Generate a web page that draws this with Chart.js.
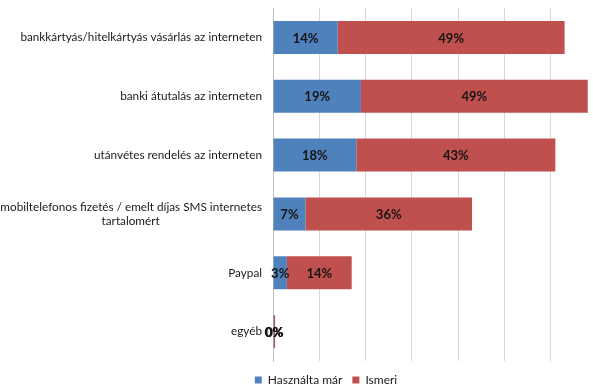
<!DOCTYPE html>
<html><head><meta charset="utf-8">
<script src="https://cdn.jsdelivr.net/npm/chart.js@4/dist/chart.umd.min.js"></script>
<style>html,body{margin:0;padding:0;overflow:hidden;background:#fff}#wrap{width:600px;height:389px;position:relative}</style>
</head><body><div id="wrap"><canvas id="c"></canvas></div>
<script>
const categories = [
  'bankkártyás/hitelkártyás vásárlás az interneten',
  'banki átutalás az interneten',
  'utánvétes rendelés az interneten',
  ['mobiltelefonos fizetés / emelt díjas SMS internetes', 'tartalomért'],
  'Paypal',
  'egyéb'
];
const seriesNames = ['Használta már', 'Ismeri'];
const usedValues = [14, 19, 18, 7, 3, 0.2];
const knownValues = [49, 49, 43, 36, 14, 0.25];
const xTickMax = 70;
const xTickStep = 10;

const FONT = 'Lato';
const LABEL_SIZE = 11.75;
const colors = ['#4F81BD', '#C0504D'];

const measureCtx = document.createElement('canvas').getContext('2d');
function centerLines(lines, font) {
  measureCtx.font = font;
  const w = lines.map(l => measureCtx.measureText(l).width);
  const max = Math.max(...w);
  const sp = measureCtx.measureText(' ').width;
  return lines.map((l, i) => l + ' '.repeat(Math.round((max - w[i]) / 2 / sp)));
}

const barLabels = {
  id: 'barLabels',
  afterLayout(chart) {
    // let the category labels run past the left padding (they are clipped to the axis box otherwise)
    chart.scales.y._computeLabelArea = () => null;
  },
  afterDatasetsDraw(chart) {
    const ctx = chart.ctx;
    ctx.save();
    ctx.font = 'bold 13px ' + FONT;
    ctx.fillStyle = '#141414';
    ctx.textAlign = 'center';
    ctx.textBaseline = 'middle';
    chart.data.datasets.forEach((ds, i) => {
      chart.getDatasetMeta(i).data.forEach((bar, j) => {
        const p = bar.getProps(['x', 'y', 'base'], true);
        ctx.fillText(Math.round(ds.data[j]) + '%', (p.x + p.base) / 2, p.y + 1);
      });
    });
    ctx.restore();
  }
};

new Chart(document.getElementById('c'), {
  type: 'bar',
  data: {
    labels: categories,
    datasets: [
      { label: seriesNames[0], data: usedValues, backgroundColor: colors[0] },
      { label: seriesNames[1], data: knownValues, backgroundColor: colors[1] }
    ]
  },
  options: {
    indexAxis: 'y',
    responsive: true,
    maintainAspectRatio: false,
    animation: false,
    layout: { padding: { left: 55, right: 3, top: 8, bottom: -7 } },
    datasets: { bar: { barPercentage: 0.56, categoryPercentage: 1 } },
    scales: {
      x: {
        stacked: true,
        min: 0, max: xTickMax,
        afterFit(s) { s.height = 3; },
        ticks: { display: false, stepSize: xTickStep },
        grid: { color: '#d9d9d9', drawTicks: false },
        border: { display: false }
      },
      y: {
        stacked: true,
        afterFit(s) { s.width = 273 - 55; s.paddingTop = 0; s.paddingBottom = 0; },
        ticks: {
          color: '#1a1a1a',
          font: { family: FONT, size: LABEL_SIZE },
          padding: 11,
          callback(v, i) {
            const l = categories[i];
            return Array.isArray(l) ? centerLines(l, LABEL_SIZE + 'px ' + FONT) : l;
          }
        },
        grid: { display: false, drawTicks: false },
        border: { color: '#bfbfbf' }
      }
    },
    plugins: {
      legend: {
        position: 'bottom',
        labels: { boxWidth: 7, boxHeight: 7, padding: 10, color: '#1a1a1a', font: { family: FONT, size: 12 } }
      },
      tooltip: { enabled: false }
    }
  },
  plugins: [barLabels]
});
</script>
</body></html>
